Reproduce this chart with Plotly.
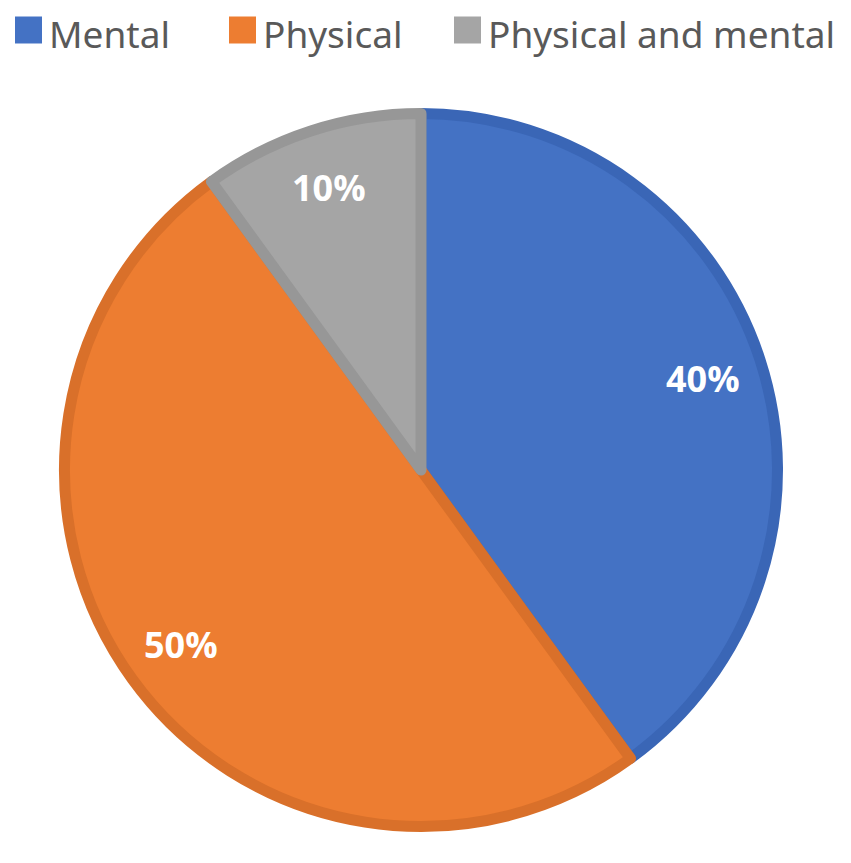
import math
import plotly.graph_objects as go

labels = ["Mental", "Physical", "Physical and mental"]
values = [40, 50, 10]
fill_colors = ["#4472C4", "#ED7D31", "#A5A5A5"]
border_colors = ["#3A66B6", "#D9702A", "#979797"]

W, H = 851, 863
OFF = 8  # page body margin offset in the screenshot

def px(x):
    return (x - OFF) / W

def py(y):
    return 1 - (y - OFF) / H

# pie geometry (screenshot pixels)
cx, cy = 421, 470
line_w = 11
r_outer = 362
r = r_outer - line_w / 2

fig = go.Figure(go.Pie(
    labels=labels,
    values=values,
    sort=False,
    direction="clockwise",
    rotation=0,
    marker=dict(colors=fill_colors, line=dict(color=border_colors, width=line_w)),
    textinfo="none",
    hoverinfo="label+percent",
    domain=dict(x=[px(cx - r), px(cx + r)], y=[py(cy + r), py(cy - r)]),
    showlegend=False,
))

# percentage labels placed along each slice's mid-angle
total = sum(values)
cum = 0
label_frac = 0.82
for v in values:
    mid = (cum + v / 2) / total * 2 * math.pi
    cum += v
    lx = cx + label_frac * r_outer * math.sin(mid)
    ly = cy - label_frac * r_outer * math.cos(mid)
    fig.add_annotation(
        x=px(lx), y=py(ly), xref="paper", yref="paper",
        text=f"{round(v / total * 100)}%", showarrow=False,
        xanchor="center", yanchor="middle",
        font=dict(family="Open Sans", size=36, color="white", weight="bold"),
    )

# legend (swatch + label for each category)
legend_x = [15, 229, 454]
sw = 27
leg_cy = 33
for lab, col, x0 in zip(labels, fill_colors, legend_x):
    fig.add_shape(
        type="rect", xref="paper", yref="paper",
        x0=px(x0), x1=px(x0 + sw), y0=py(leg_cy - 3 + sw / 2), y1=py(leg_cy - 3 - sw / 2),
        fillcolor=col, line=dict(width=0),
    )
    fig.add_annotation(
        x=px(x0 + sw + 5), y=py(leg_cy), xref="paper", yref="paper",
        text=lab, showarrow=False, xanchor="left", yanchor="middle",
        font=dict(family="Noto Sans", size=37, color="#595959"),
    )

fig.update_layout(
    width=W, height=H,
    margin=dict(l=0, r=0, t=0, b=0),
    paper_bgcolor="white",
    plot_bgcolor="white",
)

fig.write_html("out.html")
